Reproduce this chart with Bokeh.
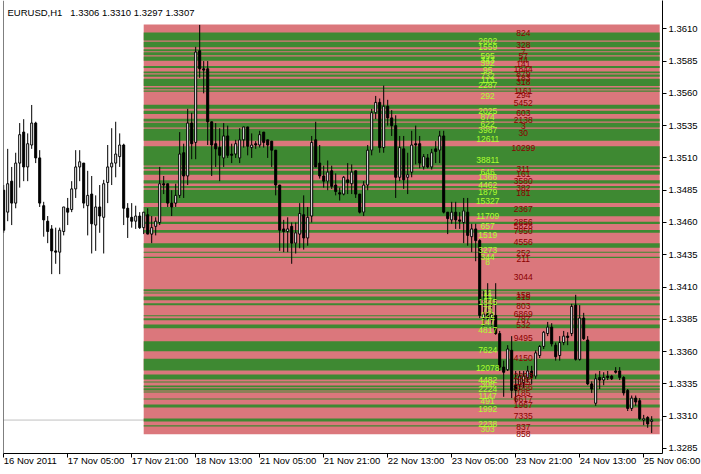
from bokeh.plotting import figure
from bokeh.models import ColumnDataSource, FixedTicker, PrintfTickFormatter, Span, Label, Range1d
from bokeh.core.properties import value
from bokeh.embed import file_html
from bokeh.resources import INLINE

# ---------------- data ----------------
SYMBOL = "EURUSD,H1"
LAST_OHLC = ["1.3306", "1.3310", "1.3297", "1.3307"]
LAST_PRICE = 1.3307

# hourly bars, in pips (x 1e-4)
OPEN = [13485,13468,13492,13475,13506,13530,13503,13520,13537,13510,13473,13461,13455,13438,13437,13453,13471,13470,13486,13503,
        13506,13473,13482,13458,13472,13464,13491,13503,13506,13511,13520,13471,13464,13461,13465,13456,13466,13451,13457,13460,
        13490,13490,13475,13475,13481,13514,13496,13537,13522,13593,13579,13579,13538,13521,13518,13510,13527,13513,13513,13510,
        13524,13534,13518,13521,13520,13530,13524,13523,13516,13489,13455,13453,13457,13444,13451,13466,13448,13465,13524,13506,
        13496,13492,13500,13489,13483,13482,13493,13490,13500,13482,13468,13489,13516,13545,13553,13518,13550,13541,13535,13495,
        13517,13495,13499,13521,13521,13503,13510,13503,13517,13516,13527,13468,13462,13468,13462,13460,13468,13449,13455,13446,
        13386,13390,13386,13388,13374,13348,13346,13361,13334,13334,13336,13340,13345,13341,13357,13364,13374,13379,13365,13357,
        13367,13372,13374,13396,13354,13386,13369,13335,13320,13340,13338,13341,13341,13345,13345,13340,13330,13316,13324,13322,
        13307,13309,13306]
HIGH = [13489,13517,13503,13514,13537,13540,13529,13551,13538,13516,13476,13465,13458,13456,13456,13472,13479,13492,13516,13516,
        13506,13500,13496,13481,13489,13493,13520,13533,13538,13529,13521,13475,13475,13473,13468,13468,13471,13465,13464,13503,
        13496,13490,13485,13490,13530,13521,13548,13545,13596,13613,13585,13585,13538,13537,13533,13537,13535,13521,13524,13533,
        13534,13534,13529,13523,13531,13530,13524,13523,13516,13489,13462,13464,13460,13460,13475,13481,13472,13527,13538,13520,
        13504,13508,13504,13498,13487,13496,13506,13505,13500,13482,13492,13520,13548,13558,13556,13566,13555,13547,13543,13527,
        13527,13514,13531,13535,13527,13513,13513,13517,13523,13531,13531,13468,13476,13476,13468,13479,13479,13459,13459,13447,
        13407,13413,13401,13413,13376,13353,13365,13372,13345,13345,13345,13349,13349,13361,13365,13376,13383,13382,13367,13372,
        13376,13375,13397,13404,13396,13390,13372,13337,13343,13345,13344,13345,13342,13348,13348,13341,13331,13326,13326,13324,
        13311,13310,13310]
LOW = [13452,13461,13458,13471,13487,13492,13492,13517,13506,13472,13449,13444,13420,13428,13420,13450,13458,13468,13479,13492,
       13471,13450,13436,13438,13452,13436,13475,13489,13495,13503,13458,13448,13456,13455,13455,13451,13451,13444,13450,13458,
       13482,13472,13465,13472,13479,13479,13489,13509,13509,13572,13560,13520,13496,13503,13492,13503,13510,13506,13510,13506,
       13518,13512,13510,13517,13518,13518,13510,13503,13481,13438,13437,13437,13428,13436,13440,13439,13442,13460,13503,13494,
       13487,13485,13486,13481,13477,13481,13482,13482,13479,13467,13465,13485,13512,13540,13514,13514,13535,13527,13479,13492,
       13486,13482,13495,13505,13502,13501,13502,13501,13506,13506,13467,13451,13459,13455,13455,13444,13442,13437,13430,13386,
       13380,13384,13380,13373,13345,13325,13345,13324,13321,13330,13332,13336,13335,13339,13355,13362,13372,13364,13353,13353,
       13365,13365,13372,13353,13353,13369,13334,13328,13318,13331,13334,13338,13338,13343,13338,13326,13314,13314,13318,13307,
       13303,13301,13297]
CLOSE = [13454,13490,13475,13506,13528,13503,13521,13537,13510,13475,13462,13453,13438,13437,13454,13472,13468,13486,13503,13507,
         13475,13481,13459,13472,13465,13490,13503,13506,13513,13520,13471,13464,13461,13465,13456,13468,13451,13456,13461,13490,
         13489,13475,13472,13481,13513,13496,13537,13521,13592,13579,13578,13538,13520,13517,13512,13527,13512,13512,13521,13524,
         13534,13519,13520,13520,13528,13522,13520,13516,13489,13454,13453,13455,13444,13452,13467,13448,13464,13522,13503,13496,
         13492,13499,13488,13484,13482,13495,13491,13499,13482,13468,13489,13516,13545,13553,13518,13550,13541,13535,13495,13518,
         13493,13497,13520,13520,13506,13511,13503,13514,13515,13527,13468,13463,13468,13462,13461,13469,13450,13455,13446,13388,
         13389,13386,13389,13374,13348,13344,13362,13330,13330,13341,13341,13345,13340,13359,13364,13375,13379,13366,13356,13367,
         13372,13371,13395,13354,13386,13370,13335,13331,13339,13338,13340,13340,13339,13344,13340,13328,13316,13324,13321,13308,
         13308,13304,13307]

# time axis
TICK_BARS = [0, 16, 32, 48, 64, 80, 96, 112, 128, 144, 160]
TICK_LABELS = ["16 Nov 2011", "17 Nov 05:00", "17 Nov 21:00", "18 Nov 13:00", "21 Nov 05:00", "21 Nov 21:00",
               "22 Nov 13:00", "23 Nov 05:00", "23 Nov 21:00", "24 Nov 13:00", "25 Nov 06:00"]
PRICE_TICKS = [1.3285, 1.3310, 1.3335, 1.3360, 1.3385, 1.3410, 1.3435, 1.3460, 1.3485, 1.3510,
               1.3535, 1.3560, 1.3585, 1.3610]

# price-level zone of the indicator (starts at 18 Nov 00:00 bar)
ZONE_FIRST_BAR = 35
ZONE_LAST_BAR = 164
ZONE_LOW = 1.32960
ZONE_HIGH = 1.36133
GREEN_LO = [1.36009, 1.35957, 1.35926, 1.35895, 1.35853, 1.35797, 1.35755, 1.35729, 1.35657, 1.35631, 1.35613,
            1.35481, 1.35440, 1.35382, 1.35336, 1.35232, 1.35041, 1.35015, 1.34969, 1.34901, 1.34865, 1.34751,
            1.34648, 1.34588, 1.34520, 1.34404, 1.34365, 1.34324, 1.34068, 1.34050, 1.33998, 1.33959, 1.33874,
            1.33843, 1.33781, 1.33602, 1.33454, 1.33384, 1.33361, 1.33325, 1.33299, 1.33284, 1.33229, 1.33167,
            1.33058, 1.33020]
GREEN_HI = [1.36071, 1.35999, 1.35941, 1.35918, 1.35885, 1.35812, 1.35770, 1.35745, 1.35714, 1.35646, 1.35623,
            1.35512, 1.35465, 1.35403, 1.35372, 1.35326, 1.35191, 1.35031, 1.35000, 1.34927, 1.34883, 1.34854,
            1.34720, 1.34606, 1.34541, 1.34440, 1.34373, 1.34334, 1.34083, 1.34058, 1.34027, 1.33975, 1.33881,
            1.33858, 1.33809, 1.33680, 1.33545, 1.33423, 1.33369, 1.33338, 1.33317, 1.33291, 1.33237, 1.33190,
            1.33082, 1.33030]

BUY_TEXT = ["2602", "1559", "595", "343", "392", "95", "732", "113", "2287", "292", "2025", "874", "622", "3987",
            "12611", "38811", "646", "1366", "4462", "1879", "15327", "11709", "657", "1519", "3273", "344", "8",
            "11", "11", "1845", "75", "122", "147", "4817", "7624", "12078", "4482", "308", "2224", "1147", "491",
            "1992", "2238", "303"]
BUY_PRICE = [1.36004, 1.35958, 1.35893, 1.35862, 1.35834, 1.35777, 1.35731, 1.35707, 1.35661, 1.35576, 1.35467,
             1.35413, 1.35361, 1.35318, 1.35248, 1.35086, 1.34990, 1.34951, 1.34892, 1.34835, 1.34768, 1.34652,
             1.34569, 1.34502, 1.34389, 1.34331, 1.34293, 1.34053, 1.34027, 1.33983, 1.33932, 1.33880, 1.33828,
             1.33769, 1.33614, 1.33475, 1.33382, 1.33351, 1.33312, 1.33260, 1.33216, 1.33157, 1.33041, 1.32997]
SELL_TEXT = ["824", "328", "7", "57", "44", "141", "1844", "879", "183", "318", "1161", "294", "5452", "603",
             "2138", "3", "30", "10299", "311", "161", "3580", "382", "181", "2367", "2856", "5828", "7950", "4556",
             "252", "211", "3044", "158", "315", "803", "6869", "787", "532", "9495", "4150", "2893", "345", "3866",
             "185", "6617", "1967", "7335", "837", "858"]
SELL_PRICE = [1.36066, 1.35976, 1.35919, 1.35893, 1.35855, 1.35829, 1.35790, 1.35752, 1.35721, 1.35687, 1.35622,
              1.35591, 1.35527, 1.35446, 1.35390, 1.35351, 1.35295, 1.35175, 1.35016, 1.34977, 1.34920, 1.34869,
              1.34827, 1.34703, 1.34600, 1.34569, 1.34536, 1.34447, 1.34362, 1.34316, 1.34176, 1.34042, 1.34022,
              1.33957, 1.33893, 1.33854, 1.33808, 1.33704, 1.33549, 1.33415, 1.33363, 1.33325, 1.33278, 1.33235,
              1.33183, 1.33098, 1.33015, 1.32964]
BUY_COLUMN_BAR = 121.0
SELL_COLUMN_BAR = 129.9

# ---------------- styles ----------------
FONT = "Liberation Sans"
PINK = "#DB777C"
GREEN = "#3E8932"

# ---------------- build ----------------
n = len(OPEN)
idx = list(range(n))
o = [v / 10000 for v in OPEN]
h = [v / 10000 for v in HIGH]
l = [v / 10000 for v in LOW]
c = [v / 10000 for v in CLOSE]
src = ColumnDataSource(dict(
    x=idx, high=h, low=l,
    top=[max(a, b) for a, b in zip(o, c)],
    bottom=[min(a, b) for a, b in zip(o, c)],
    fill=["white" if cc >= oo else "black" for oo, cc in zip(o, c)],
))

X0, X1 = -0.05, 164.7
Y0, Y1 = 1.32811, 1.36319
p = figure(width=701, height=474, output_backend="svg", toolbar_location=None,
           x_range=Range1d(X0, X1), y_range=Range1d(Y0, Y1),
           y_axis_location="right", min_border_left=3, min_border_top=0,
           min_border_right=39, min_border_bottom=21)
p.outline_line_color = None
p.background_fill_color = "white"
p.border_fill_color = "white"
p.xgrid.visible = False
p.ygrid.visible = False

# zone background
p.quad(left=[ZONE_FIRST_BAR], right=[ZONE_LAST_BAR], bottom=[ZONE_LOW], top=[ZONE_HIGH],
       fill_color=PINK, line_color=None)
p.quad(left=ZONE_FIRST_BAR, right=ZONE_LAST_BAR, bottom=GREEN_LO, top=GREEN_HI,
       fill_color=GREEN, line_color=None)

# current price line
p.add_layout(Span(location=LAST_PRICE, dimension="width", line_color="#C0C0C0", line_width=1, level="underlay"))

# candles
p.segment(x0="x", y0="low", x1="x", y1="high", source=src, line_color="black", line_width=1)
p.vbar(x="x", width=0.5, top="top", bottom="bottom", source=src,
       fill_color="fill", line_color="black", line_width=1)

# volume labels
p.text(x=BUY_COLUMN_BAR, y=BUY_PRICE, text=BUY_TEXT, text_font=value(FONT), text_font_size="8.5px",
       text_color="#ADFF2F", text_align="center", text_baseline="middle")
p.text(x=SELL_COLUMN_BAR, y=SELL_PRICE, text=SELL_TEXT, text_font=value(FONT), text_font_size="8.5px",
       text_color="#8B0000", text_align="center", text_baseline="middle")

# left frame border
p.add_layout(Span(location=X0, dimension="height", line_color="black", line_width=1))

# x axis: a tiny negative orientation makes the labels start at their tick
xa = p.xaxis[0]
xa.ticker = FixedTicker(ticks=TICK_BARS)
xa.major_label_overrides = {t: s for t, s in zip(TICK_BARS, TICK_LABELS)}
xa.major_label_orientation = -1e-6
xa.major_label_text_font = FONT
xa.major_label_text_font_size = "9.5px"
xa.major_label_text_color = "black"
xa.major_label_standoff = 3
xa.major_tick_out = 4
xa.major_tick_in = 0
xa.minor_tick_out = 0
xa.minor_tick_in = 0
xa.axis_line_color = "black"

ya = p.yaxis[0]
ya.ticker = FixedTicker(ticks=PRICE_TICKS)
ya.formatter = PrintfTickFormatter(format="%.4f")
ya.major_label_text_font = FONT
ya.major_label_text_font_size = "9.5px"
ya.major_label_text_color = "black"
ya.major_label_standoff = 2
ya.major_tick_out = 4
ya.major_tick_in = 0
ya.minor_tick_out = 0
ya.minor_tick_in = 0
ya.axis_line_color = "black"

# title and last price tag
title = SYMBOL + "\u00a0\u00a0 " + " ".join(LAST_OHLC)
p.add_layout(Label(x=X0, y=Y1, text=title, text_font=FONT, text_font_size="9.5px",
                   text_color="black", text_align="left", text_baseline="middle", x_offset=4, y_offset=-12))
p.add_layout(Label(x=X1, y=LAST_PRICE, text=f"{LAST_PRICE:.4f}", text_font=FONT, text_font_size="9.5px",
                   text_color="white", background_fill_color="black", text_align="left",
                   text_baseline="middle", x_offset=1, padding=3))

open("out.html", "w").write(file_html(p, INLINE))
